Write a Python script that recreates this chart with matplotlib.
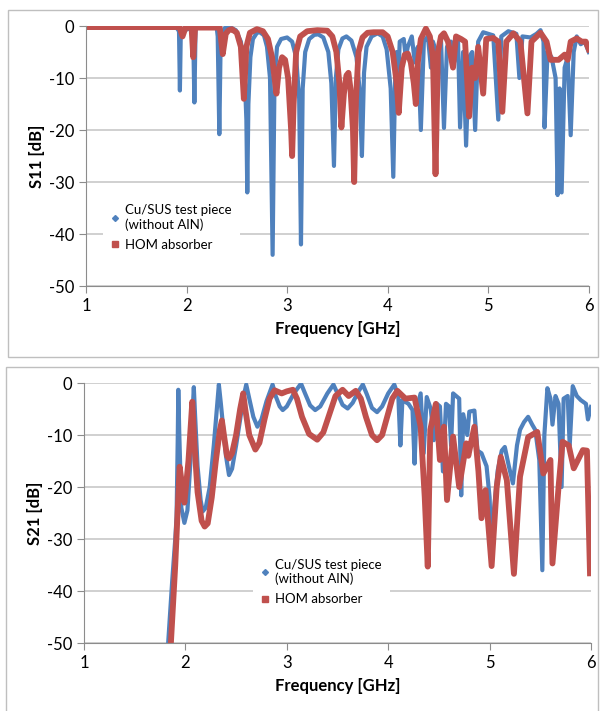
import numpy as np
import matplotlib.pyplot as plt
from matplotlib.lines import Line2D
from matplotlib.patches import Rectangle

plt.rcParams['font.family'] = ['Lato', 'DejaVu Sans']
plt.rcParams['axes.unicode_minus'] = False

# S11 - Cu/SUS test piece (without AlN), frequency [GHz] / dB
s11_cu_f = [1.0, 1.90, 1.925, 1.934, 1.943, 2.065, 2.078, 2.09, 2.30, 2.31, 2.326, 2.34, 2.38, 2.43,
            2.49, 2.54, 2.575, 2.595, 2.604, 2.615, 2.635, 2.66, 2.70, 2.73, 2.77, 2.80, 2.83, 2.856,
            2.875, 2.90, 2.94, 3.0, 3.05, 3.09, 3.12, 3.138, 3.155, 3.18, 3.22, 3.27, 3.31, 3.36,
            3.41, 3.44, 3.466, 3.485, 3.51, 3.55, 3.59, 3.64, 3.69, 3.72, 3.744, 3.765, 3.79, 3.84,
            3.90, 3.95, 3.99, 4.03, 4.056, 4.075, 4.09, 4.10, 4.12, 4.16, 4.18, 4.20, 4.24, 4.27,
            4.30, 4.33, 4.36, 4.40, 4.43, 4.45, 4.50, 4.53, 4.56, 4.59, 4.63, 4.66, 4.70, 4.72,
            4.75, 4.78, 4.81, 4.84, 4.87, 4.90, 4.95, 5.00, 5.05, 5.10, 5.13, 5.20, 5.28, 5.31,
            5.34, 5.42, 5.48, 5.52, 5.55, 5.56, 5.59, 5.63, 5.67, 5.69, 5.71, 5.73, 5.76, 5.79,
            5.82, 5.85, 5.88, 5.92, 5.96, 6.0]
s11_cu_v = [-0.3, -0.3, -1, -12.4, -1, -0.3, -14.7, -0.3, -0.3, -2, -20.8, -2, -0.4, -0.2,
            -0.8, -3, -8, -18, -32, -15, -6, -2.5, -1.3, -1.2, -1.8, -4, -10, -44,
            -10, -4, -2.5, -2.2, -3, -6, -14, -42, -12, -5, -2.5, -1.7, -1.6, -2.2,
            -5, -11, -26.9, -10, -4.5, -2.4, -2, -2.8, -6, -12, -25, -9, -4, -2,
            -1.4, -2, -4.5, -12, -29, -10, -5, -13, -3, -2.5, -6, -4, -2, -7,
            -4, -20, -3, -2, -8, -3, -6, -2.5, -19.6, -4, -3, -7, -3, -19.5,
            -5, -23, -6, -5, -20, -3, -1.2, -1.5, -1.8, -18, -2, -1.0, -1.5, -10,
            -2, -2.2, -1.5, -0.8, -3, -19.5, -5, -6, -10, -32.5, -12, -32, -8, -6,
            -21, -5, -2, -3.5, -3, -5]

# S11 - HOM absorber
s11_hom_f = [1.0, 1.93, 1.96, 1.99, 2.05, 2.067, 2.085, 2.33, 2.36, 2.39, 2.42, 2.45, 2.50, 2.54,
             2.57, 2.595, 2.63, 2.70, 2.76, 2.81, 2.85, 2.894, 2.92, 2.95, 2.98, 3.01, 3.04, 3.05,
             3.065, 3.09, 3.13, 3.20, 3.30, 3.40, 3.45, 3.49, 3.52, 3.54, 3.565, 3.59, 3.61, 3.63,
             3.655, 3.667, 3.685, 3.71, 3.75, 3.80, 3.86, 3.95, 4.00, 4.05, 4.09, 4.11, 4.14, 4.17,
             4.20, 4.23, 4.26, 4.28, 4.30, 4.33, 4.38, 4.42, 4.45, 4.476, 4.50, 4.53, 4.56, 4.60,
             4.65, 4.68, 4.73, 4.77, 4.81, 4.84, 4.87, 4.90, 4.95, 4.98, 5.05, 5.10, 5.14, 5.18,
             5.25, 5.32, 5.39, 5.43, 5.52, 5.58, 5.62, 5.70, 5.76, 5.79, 5.82, 5.88, 5.93, 5.97,
             6.0]
s11_hom_v = [-0.2, -0.2, -2, -0.3, -0.3, -6, -0.3, -0.3, -5.4, -1.5, -0.8, -0.6, -1.3, -4,
             -14, -4, -1.3, -0.6, -1.0, -2.5, -6, -13, -8, -6, -6.5, -10, -20, -25,
             -15, -5, -2, -1.0, -0.8, -0.9, -2, -5, -11, -19.5, -13, -9.5, -9, -12,
             -20, -30, -14, -5, -2.2, -1.3, -1.2, -1.2, -2, -5, -11, -16.7, -8, -5.5,
             -5.3, -7, -11, -15, -7, -2.5, -0.5, -2, -6, -28.5, -5, -2, -1.4, -3,
             -8, -2, -2.5, -3, -17.4, -8, -10, -4, -13, -2.5, -2.3, -3, -16.5, -3,
             -1.4, -3, -16.8, -3, -1.3, -3, -6.5, -6.5, -5.5, -6.5, -3, -2.4, -3, -3,
             -4.5]

# S21 - Cu/SUS test piece (without AlN)
s21_cu_f = [1.83, 1.87, 1.90, 1.913, 1.925, 1.93, 1.94, 1.96, 1.99, 2.02, 2.05, 2.07, 2.083, 2.095,
            2.12, 2.15, 2.17, 2.20, 2.24, 2.28, 2.31, 2.33, 2.35, 2.38, 2.40, 2.43, 2.46, 2.50,
            2.54, 2.57, 2.60, 2.63, 2.67, 2.71, 2.75, 2.80, 2.86, 2.89, 2.93, 2.96, 3.00, 3.07,
            3.14, 3.18, 3.23, 3.28, 3.33, 3.40, 3.46, 3.50, 3.55, 3.60, 3.65, 3.71, 3.75, 3.79,
            3.84, 3.89, 3.94, 4.00, 4.06, 4.10, 4.12, 4.14, 4.20, 4.24, 4.26, 4.28, 4.32, 4.35,
            4.38, 4.42, 4.45, 4.48, 4.51, 4.54, 4.57, 4.60, 4.62, 4.64, 4.70, 4.72, 4.74, 4.78,
            4.80, 4.85, 4.88, 4.92, 4.97, 5.00, 5.02, 5.04, 5.08, 5.12, 5.15, 5.19, 5.23, 5.27,
            5.30, 5.34, 5.38, 5.42, 5.45, 5.49, 5.52, 5.54, 5.57, 5.60, 5.62, 5.65, 5.68, 5.71,
            5.73, 5.77, 5.79, 5.82, 5.86, 5.90, 5.95, 5.97, 6.0]
s21_cu_v = [-50, -38, -30, -25.7, -10, -1.3, -10, -24, -26.9, -24.5, -15, -6, -0.8, -6,
            -16, -22.5, -24.7, -24, -20, -12, -5, -0.3, -4, -10, -14, -17.7, -16.5, -12,
            -7, -3, -0.3, -3, -6.5, -8.4, -7, -3.5, -0.3, -2.5, -4.5, -5.2, -4.5, -2,
            -0.1, -2, -4.3, -5.2, -4.5, -2, -0.3, -2, -4.2, -4.9, -3.8, -1.5, -0.3, -2.2,
            -4.8, -5.6, -4.5, -2, -0.3, -2.5, -12, -3.3, -4, -5.2, -15.5, -5, -2, -13.5,
            -2.7, -5, -11, -4, -4.5, -17, -4, -4.5, -12, -2, -3, -21.6, -6, -10,
            -5.5, -5.3, -13, -13.5, -16, -22, -34.7, -25, -16.8, -13, -12.3, -16, -19.3, -12,
            -9, -7.5, -6.5, -8, -9, -14.8, -36, -10, -1, -3, -8, -2.5, -4, -20,
            -3, -2.5, -12, -0.6, -2.5, -3.3, -4, -7, -4.6]

# S21 - HOM absorber
s21_hom_f = [1.857, 1.90, 1.943, 1.97, 1.99, 2.03, 2.068, 2.09, 2.12, 2.16, 2.19, 2.22, 2.26, 2.30,
             2.34, 2.36, 2.38, 2.41, 2.43, 2.46, 2.50, 2.54, 2.57, 2.59, 2.63, 2.69, 2.73, 2.78,
             2.83, 2.88, 2.95, 3.00, 3.06, 3.10, 3.15, 3.22, 3.30, 3.36, 3.42, 3.48, 3.55, 3.61,
             3.68, 3.73, 3.78, 3.84, 3.89, 3.94, 3.99, 4.04, 4.09, 4.17, 4.26, 4.32, 4.36, 4.39,
             4.415, 4.47, 4.51, 4.55, 4.58, 4.64, 4.70, 4.77, 4.79, 4.85, 4.89, 4.92, 4.96, 5.02,
             5.07, 5.11, 5.17, 5.24, 5.30, 5.38, 5.47, 5.53, 5.60, 5.62, 5.68, 5.72, 5.78, 5.83,
             5.92, 5.96, 5.99]
s21_hom_v = [-50, -35, -16.1, -20, -23, -15, -3.6, -12, -21, -26.5, -27.6, -27, -22, -15,
             -9, -7.2, -10, -14, -14.5, -13.5, -10, -5, -2, -5, -10, -12.8, -11.5, -7,
             -3, -1.4, -2, -1.6, -1.3, -3, -6.5, -9.8, -10.9, -9.5, -6, -2.5, -1.3, -2.5,
             -1.5, -3, -6.5, -10, -11, -10, -6.5, -3, -1.5, -3, -2.8, -8.4, -21.9, -35.3,
             -9, -4, -14.8, -8.4, -22.5, -10.3, -20, -11.6, -14, -8.4, -17, -26, -20.6, -35.2,
             -20, -14.2, -18.7, -36.7, -18, -10.4, -9.4, -17.4, -14.8, -34.7, -20, -11.3, -12, -16.4,
             -12.9, -13, -36.6]

blue = '#4F81BD'
red = '#C0504D'
yticks = [0, -10, -20, -30, -40, -50]
xticks = [1, 2, 3, 4, 5, 6]

fig = plt.figure(figsize=(6, 7.11), dpi=100)

# light grey frames around each chart (Excel style)
fig.patches.append(Rectangle((8/600, 1 - 357/711), 590/600, 347/711, transform=fig.transFigure,
                             fill=False, edgecolor='#BFBFBF', lw=1))
fig.patches.append(Rectangle((6/600, -0.05), 592/600, 0.05 + 1 - 367/711, transform=fig.transFigure,
                             fill=False, edgecolor='#BFBFBF', lw=1))


def setup(ax, ylabel):
    ax.set_xlim(1, 6)
    ax.set_ylim(-50, 0)
    ax.set_xticks(xticks)
    ax.set_yticks(yticks)
    ax.set_yticklabels([str(t) for t in yticks])
    ax.grid(axis='y', color='#C8C8C8', lw=1.2)
    ax.set_axisbelow(True)
    for s in ['top', 'right']:
        ax.spines[s].set_visible(False)
    for s in ['left', 'bottom']:
        ax.spines[s].set_color('#8C8C8C')
    ax.tick_params(colors='#8C8C8C', labelcolor='black', labelsize=12, length=5, direction='out')
    ax.set_xlabel('Frequency [GHz]', fontsize=12, fontweight='bold', labelpad=5)
    ax.set_ylabel(ylabel, fontsize=12, fontweight='bold', labelpad=3)


def add_legend(ax, anchor):
    handles = [Line2D([], [], ls='none', marker='D', ms=3, color=blue),
               Line2D([], [], ls='none', marker='s', ms=4, color=red)]
    leg = ax.legend(handles, ['Cu/SUS test piece\n(without AlN)', 'HOM absorber'],
                    loc='upper left', bbox_to_anchor=anchor, fontsize=9.5, frameon=True,
                    handlelength=0.6, handletextpad=0.5, labelspacing=0.6, borderpad=0.6)
    leg.get_frame().set_facecolor('white')
    leg.get_frame().set_edgecolor('none')
    leg.get_frame().set_alpha(1)


ax1 = fig.add_axes([0.1433, 0.5977, 0.838, 0.3657])
ax1.plot(s11_cu_f, s11_cu_v, color=blue, lw=3.0, solid_joinstyle='round')
ax1.plot(s11_hom_f, s11_hom_v, color=red, lw=4.2, solid_joinstyle='round')
setup(ax1, 'S11 [dB]')
add_legend(ax1, (0.02, 0.37))

ax2 = fig.add_axes([0.14, 0.0956, 0.845, 0.3657])
ax2.plot(s21_cu_f, s21_cu_v, color=blue, lw=3.0, solid_joinstyle='round')
ax2.plot(s21_hom_f, s21_hom_v, color=red, lw=4.2, solid_joinstyle='round')
setup(ax2, 'S21 [dB]')
add_legend(ax2, (0.32, 0.38))

fig.savefig('out.png', dpi=100)
